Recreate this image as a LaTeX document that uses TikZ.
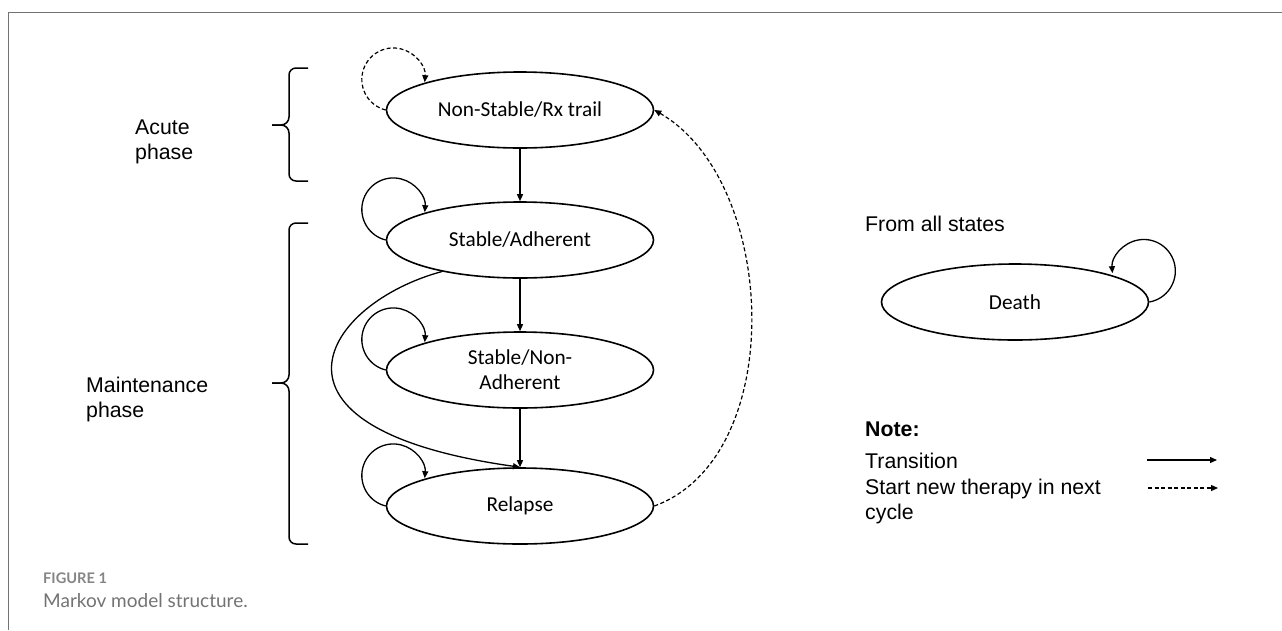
\documentclass[tikz,border=0pt]{standalone}
\usepackage{fontspec}
\setmainfont{Liberation Sans}
\newfontfamily\calfont{Carlito}
\newfontfamily\capfont{Lato}
\usetikzlibrary{shapes.geometric,arrows.meta}
\begin{document}
\begin{tikzpicture}[x=1pt,y=1pt,
  state/.style={ellipse,draw,line width=1.6pt,minimum width=267pt,minimum height=76pt,inner sep=0pt,
    font=\calfont\fontsize{21.3}{25}\selectfont,align=center},
  tr/.style={line width=1.3pt,-{Triangle[length=7pt,width=6pt]}},
  ntr/.style={tr,line width=1.2pt,dash pattern=on 4pt off 2.5pt},
  lab/.style={font=\fontsize{21.3}{25}\selectfont,anchor=base west,inner sep=0pt,align=left},
  bracepath/.style={line width=1.5pt},
  framepath/.style={draw=black!55,line width=1pt}]
\useasboundingbox (0,0) rectangle (1282,-630);
\draw[framepath] (8,-630) -- (8,-12) -- (1282,-12);

% states
\node[state] (ns) at (520,-110) {Non-Stable/Rx trail};
\node[state] (sa) at (520,-240) {Stable/Adherent};
\node[state] (sn) at (520,-370) {Stable/Non-\\Adherent};
\node[state] (rel) at (520,-506) {Relapse};
\node[state] (death) at (1015,-302) {Death};

% transitions
\draw[tr] (ns) -- (sa);
\draw[tr] (sa) -- (sn);
\draw[tr] (sn) -- (rel);
\draw[tr] (sa.202) to[out=195,in=172,out distance=120pt,in distance=283pt] (rel.north);
\draw[ntr] (rel.east) to[out=20,in=-30,out distance=143pt,in distance=143pt] (ns.east);

% self loops
\draw[ntr] (ns.west) arc[start angle=256,end angle=-5,radius=31.5pt];
\draw[tr] (sa.west) arc[start angle=256,end angle=-5,radius=31.5pt];
\draw[tr] (sn.west) arc[start angle=256,end angle=-5,radius=31.5pt];
\draw[tr] (rel.west) arc[start angle=256,end angle=-5,radius=31.5pt];
\draw[tr] (death.east) arc[start angle=-80,end angle=184,radius=31.5pt];

% braces
\draw[bracepath] (308,-68) -- (296,-68) to[out=180,in=90] (289,-75) -- (289,-117)
  to[out=-90,in=0] (281,-125) -- (272,-125);
\draw[bracepath] (272,-125) -- (281,-125) to[out=0,in=90] (289,-133) -- (289,-174)
  to[out=-90,in=180] (296,-181) -- (308,-181);
\draw[bracepath] (308,-223) -- (296,-223) to[out=180,in=90] (289,-230) -- (289,-375)
  to[out=-90,in=0] (281,-383) -- (272,-383);
\draw[bracepath] (272,-383) -- (281,-383) to[out=0,in=90] (289,-391) -- (289,-537)
  to[out=-90,in=180] (296,-544) -- (308,-544);

% labels (base anchor = baseline of the last line)
\node[lab] (acute) at (135,-159) {Acute\\phase};
\node[lab] (maint) at (86,-417) {Maintenance\\phase};
\node[lab] (from) at (865,-231) {From all states};
\node[lab,font=\bfseries\fontsize{21.3}{25}\selectfont] (note) at (865,-436) {Note:};
\node[lab] (trans) at (865,-468) {Transition};
\node[lab] (startlab) at (865,-519) {Start new therapy in next\\cycle};

% legend arrows
\coordinate (l1a) at (1147,-460);
\coordinate (l1b) at (1217,-460);
\coordinate (l2a) at (1148,-488);
\coordinate (l2b) at (1218,-488);
\draw[tr] (l1a) -- (l1b);
\draw[ntr] (l2a) -- (l2b);

% caption
\node[anchor=base west,inner sep=0pt,font=\capfont\bfseries\fontsize{14.6}{17}\selectfont,text=black!48] (fig) at (43,-583) {FIGURE 1};
\node[anchor=base west,inner sep=0pt,font=\capfont\fontsize{19}{22}\selectfont,text=black!55] (cap) at (43,-607) {Markov model structure.};
\end{tikzpicture}
\end{document}
